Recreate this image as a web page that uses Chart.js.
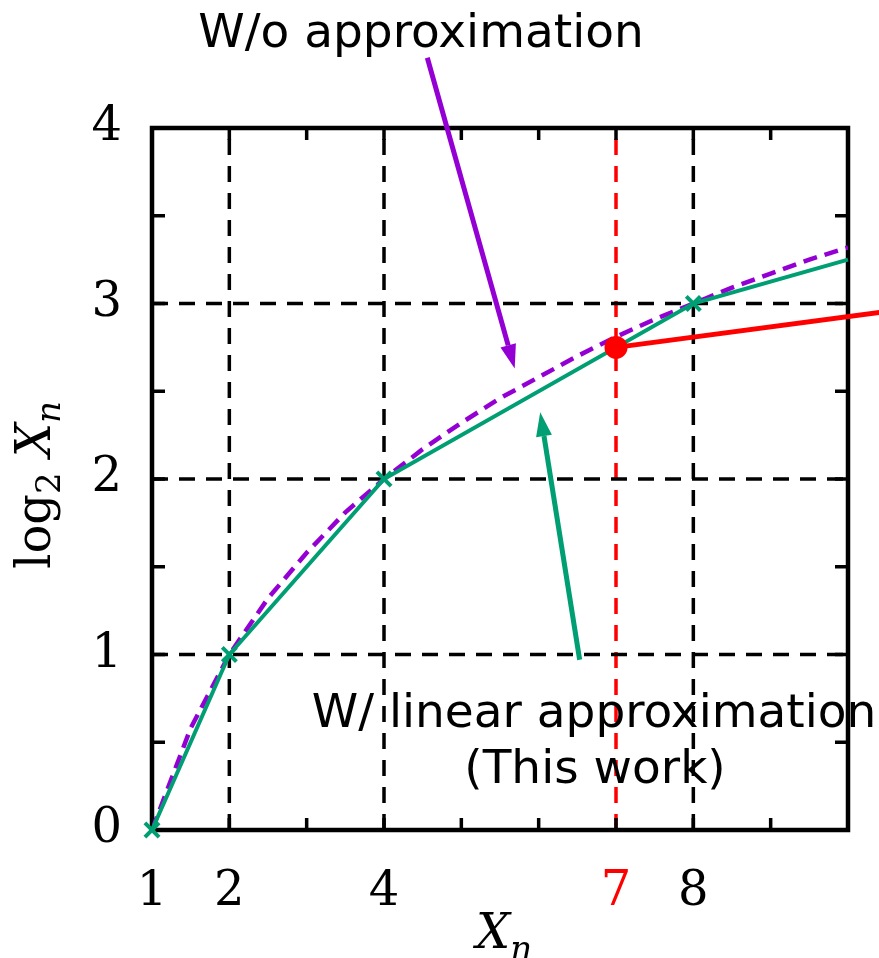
<!DOCTYPE html>
<html>
<head>
<meta charset="utf-8">
<script src="https://cdn.jsdelivr.net/npm/chart.js@4"></script>
<style>
html, body { margin: 0; padding: 0; background: #fff; }
canvas { display: block; }
</style>
</head>
<body>
<canvas id="chart" width="879" height="958"></canvas>
<script>
// exact log2 curve (dashed purple) at half steps
const exactX = [1, 1.5, 2, 2.5, 3, 3.5, 4, 4.5, 5, 5.5, 6, 6.5, 7, 7.5, 8, 8.5, 9, 9.5, 10]
const exactY = [0, 0.58, 1, 1.32, 1.58, 1.81, 2, 2.17, 2.32, 2.46, 2.58, 2.7, 2.81, 2.91, 3, 3.09, 3.17, 3.25, 3.32]

// linear approximation (green), crosses at powers of two
const linearX = [1, 2, 4, 8, 10]
const linearY = [0, 1, 2, 3, 3.25]
const linearMarked = [true, true, true, true, false]

// red point on x = 7 and its pointer leaving the plot
const pickX = [7, 10.5]
const pickY = [2.75, 2.955]

const xTickLabels = [1, 2, 4, 7, 8]
const yTickLabels = [0, 1, 2, 3, 4]
const xGrid = [2, 4, 7, 8]
const yGrid = [1, 2, 3]

const PURPLE = '#9400d3'
const GREEN = '#009e73'
const RED = '#ff0000'

// annotations, in data units
const arrowExact = { from: [4.56, 4.40], to: [5.69, 2.63], color: PURPLE }
const arrowLinear = { from: [6.53, 0.97], to: [6.02, 2.38], color: GREEN }

function pts(xs, ys) {
    return xs.map((v, i) => ({ x: v, y: ys[i] }))
}

function drawArrow(ctx, x, y, a) {
    const x0 = x.getPixelForValue(a.from[0]), y0 = y.getPixelForValue(a.from[1])
    const x1 = x.getPixelForValue(a.to[0]), y1 = y.getPixelForValue(a.to[1])
    const ang = Math.atan2(y1 - y0, x1 - x0)
    const head = 24, half = 8
    const bx = x1 - head * Math.cos(ang), by = y1 - head * Math.sin(ang)
    ctx.strokeStyle = a.color
    ctx.fillStyle = a.color
    ctx.lineWidth = 5
    ctx.beginPath()
    ctx.moveTo(x0, y0)
    ctx.lineTo(bx, by)
    ctx.stroke()
    ctx.beginPath()
    ctx.moveTo(x1, y1)
    ctx.lineTo(bx + half * Math.sin(ang), by - half * Math.cos(ang))
    ctx.lineTo(bx - half * Math.sin(ang), by + half * Math.cos(ang))
    ctx.closePath()
    ctx.fill()
}

const framePlugin = {
    id: 'frame',
    beforeDatasetsDraw(chart) {
        const { ctx, chartArea: a, scales: { x, y } } = chart
        ctx.save()
        // dashed grid
        ctx.lineWidth = 3.5
        ctx.setLineDash([16, 11])
        xGrid.forEach(v => {
            const px = x.getPixelForValue(v)
            ctx.strokeStyle = v === 7 ? RED : '#000'
            ctx.beginPath()
            ctx.moveTo(px, a.bottom)
            ctx.lineTo(px, a.top)
            ctx.stroke()
        })
        ctx.strokeStyle = '#000'
        yGrid.forEach(v => {
            const py = y.getPixelForValue(v)
            ctx.beginPath()
            ctx.moveTo(a.left, py)
            ctx.lineTo(a.right, py)
            ctx.stroke()
        })
        ctx.setLineDash([])
        // inward ticks on all four sides
        ctx.lineWidth = 3.5
        x.ticks.forEach(t => {
            const px = x.getPixelForValue(t.value)
            ctx.beginPath()
            ctx.moveTo(px, a.bottom); ctx.lineTo(px, a.bottom - 12)
            ctx.moveTo(px, a.top); ctx.lineTo(px, a.top + 12)
            ctx.stroke()
        })
        y.ticks.forEach(t => {
            const py = y.getPixelForValue(t.value)
            ctx.beginPath()
            ctx.moveTo(a.left, py); ctx.lineTo(a.left + 13, py)
            ctx.moveTo(a.right, py); ctx.lineTo(a.right - 13, py)
            ctx.stroke()
        })
        ctx.lineWidth = 4.5
        ctx.strokeRect(a.left, a.top, a.width, a.height)
        ctx.restore()
    },
    afterDatasetsDraw(chart) {
        const { ctx, chartArea: a, scales: { x, y } } = chart
        ctx.save()
        drawArrow(ctx, x, y, arrowExact)
        drawArrow(ctx, x, y, arrowLinear)

        ctx.fillStyle = '#000'
        ctx.font = '47px "DejaVu Sans"'
        ctx.textAlign = 'center'
        ctx.textBaseline = 'alphabetic'
        ctx.fillText('W/o approximation', 421, 47)
        ctx.fillText('W/ linear approximation', 594, 727)
        ctx.fillText('(This work)', 595, 783)

        // x axis title: X_n
        ctx.textAlign = 'left'
        ctx.font = 'italic 48px "DejaVu Serif"'
        const wX = ctx.measureText('X').width
        ctx.font = 'italic 34px "DejaVu Serif"'
        const wn = ctx.measureText('n').width
        let sx = (a.left + a.right) / 2 - (wX + wn) / 2 + 4
        ctx.font = 'italic 48px "DejaVu Serif"'
        ctx.fillText('X', sx, 948)
        ctx.font = 'italic 34px "DejaVu Serif"'
        ctx.fillText('n', sx + wX, 960)

        // y axis title: log_2 X_n, rotated
        ctx.translate(50, 485)
        ctx.rotate(-Math.PI / 2)
        const parts = [
            { t: 'log', f: '48px "DejaVu Serif"', dy: 0 },
            { t: '2', f: '34px "DejaVu Serif"', dy: 10 },
            { t: ' ', f: '48px "DejaVu Serif"', dy: 0 },
            { t: 'X', f: 'italic 48px "DejaVu Serif"', dy: 0 },
            { t: 'n', f: 'italic 34px "DejaVu Serif"', dy: 10 }
        ]
        let total = 0
        parts.forEach(p => { ctx.font = p.f; p.w = ctx.measureText(p.t).width; total += p.w })
        let cx = -total / 2
        parts.forEach(p => {
            ctx.font = p.f
            ctx.fillText(p.t, cx, p.dy)
            cx += p.w
        })
        ctx.restore()
    }
}

new Chart(document.getElementById('chart'), {
    type: 'scatter',
    data: {
        datasets: [
            {
                label: 'pick',
                data: pts(pickX, pickY),
                showLine: true,
                borderColor: RED,
                borderWidth: 5,
                pointRadius: [9, 0],
                pointBackgroundColor: RED,
                pointBorderColor: RED,
                clip: false,
                order: 0
            },
            {
                label: 'W/ linear approximation',
                data: pts(linearX, linearY),
                showLine: true,
                borderColor: GREEN,
                borderWidth: 4,
                pointStyle: 'crossRot',
                pointRadius: linearMarked.map(m => m ? 10 : 0),
                pointBorderColor: GREEN,
                pointBorderWidth: 4,
                clip: false,
                order: 1
            },
            {
                label: 'W/o approximation',
                data: pts(exactX, exactY),
                showLine: true,
                borderColor: PURPLE,
                borderWidth: 4.5,
                borderDash: [14, 8],
                pointRadius: 0,
                order: 2
            }
        ]
    },
    options: {
        responsive: false,
        animation: false,
        layout: { padding: { top: 128, right: 31, left: 0, bottom: 0 } },
        plugins: { legend: { display: false }, tooltip: { enabled: false } },
        scales: {
            x: {
                type: 'linear',
                min: 1,
                max: 10,
                afterFit: s => { s.height = 128 },
                grid: { display: false },
                border: { display: false },
                ticks: {
                    stepSize: 1,
                    autoSkip: false,
                    maxRotation: 0,
                    padding: 26,
                    font: { family: 'DejaVu Serif', size: 48 },
                    color: c => c.tick && c.tick.value === 7 ? RED : '#000',
                    callback: v => xTickLabels.includes(v) ? String(v) : ''
                }
            },
            y: {
                type: 'linear',
                min: 0,
                max: 4,
                afterFit: s => { s.width = 152 },
                grid: { display: false },
                border: { display: false },
                ticks: {
                    stepSize: 0.5,
                    autoSkip: false,
                    padding: 22,
                    font: { family: 'DejaVu Serif', size: 48 },
                    color: '#000',
                    callback: v => yTickLabels.includes(v) ? String(v) : ''
                }
            }
        }
    },
    plugins: [framePlugin]
})
</script>
</body>
</html>
